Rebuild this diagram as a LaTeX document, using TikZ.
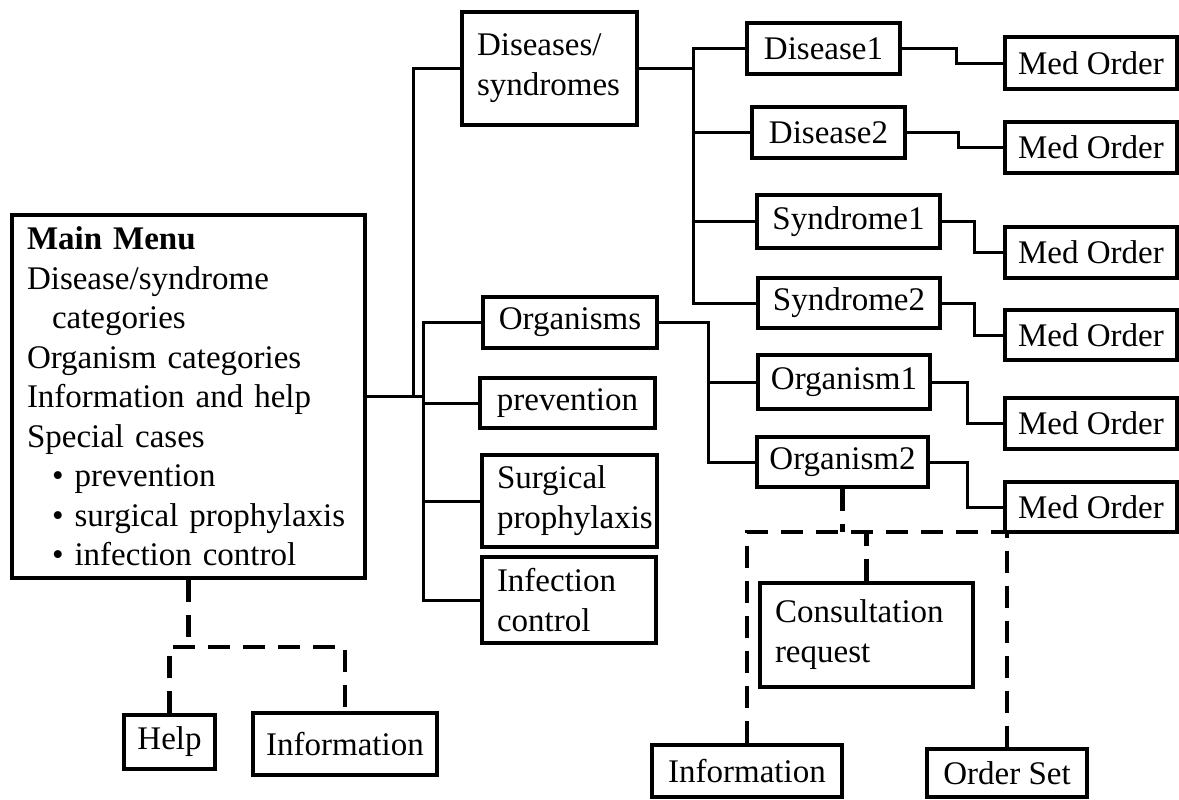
\documentclass[tikz,border=0pt]{standalone}
\usepackage{fontspec}
\setmainfont{Liberation Serif}
\newcommand\dgfs{\fontsize{16.5}{20}\selectfont}
\begin{document}
\begin{tikzpicture}[x=0.5pt,y=-0.5pt,
  box/.style={draw, line width=1.6pt, inner sep=0pt, font=\dgfs},
  mbox/.style={box, align=left},
  conn/.style={line width=1.5pt},
  dsh/.style={line width=2.3pt, dash pattern=on 11pt off 6.5pt}]
\useasboundingbox (0,0) rectangle (1179,799);
% main menu
\node[mbox, minimum width=176.5pt, minimum height=181.5pt, text width=161.5pt,
  font=\fontsize{16.5}{19.75}\selectfont] (main) at (188.5,396.5)
 {\textbf{Main Menu}\\
  Disease/syndrome\\
  \hspace*{12.5pt}categories\\
  Organism categories\\
  Information and help\\
  Special cases\\
  \hspace*{12.5pt}\textbullet\ prevention\\
  \hspace*{12.5pt}\textbullet\ surgical prophylaxis\\
  \hspace*{12.5pt}\textbullet\ infection control};
% second level
\node[mbox, minimum width=87.5pt, minimum height=56.5pt, text width=72.5pt] (dis) at (549.5,68.5) {Diseases/\\syndromes};
\node[box, minimum width=87pt, minimum height=25.5pt] (org) at (570,322.5) {Organisms};
\node[box, minimum width=87.5pt, minimum height=25pt] (prev) at (567.5,403) {prevention};
\node[mbox, minimum width=87.5pt, minimum height=46pt, text width=72.5pt] (surg) at (569.5,501) {Surgical\\prophylaxis};
\node[mbox, minimum width=87pt, minimum height=43pt, text width=72pt] (inf) at (569,600) {Infection\\control};
% third level
\node[box, minimum width=76.5pt, minimum height=25.5pt] (d1) at (823.5,48.5) {Disease1};
\node[box, minimum width=76.5pt, minimum height=25.5pt] (d2) at (828.5,132.5) {Disease2};
\node[box, minimum width=91.5pt, minimum height=26.5pt] (s1) at (848.5,221.5) {Syndrome1};
\node[box, minimum width=91pt, minimum height=25pt] (s2) at (849,303) {Syndrome2};
\node[box, minimum width=86pt, minimum height=27pt] (o1) at (844,382) {Organism1};
\node[box, minimum width=85.5pt, minimum height=25pt] (o2) at (842.5,462) {Organism2};
% med orders
\node[box, minimum width=86pt, minimum height=26pt] (m1) at (1091,63) {Med Order};
\node[box, minimum width=86pt, minimum height=25.5pt] (m2) at (1091,147.5) {Med Order};
\node[box, minimum width=86pt, minimum height=25.5pt] (m3) at (1091,252.5) {Med Order};
\node[box, minimum width=86pt, minimum height=25pt] (m4) at (1091,335) {Med Order};
\node[box, minimum width=86pt, minimum height=25.5pt] (m5) at (1091,423.5) {Med Order};
\node[box, minimum width=86pt, minimum height=25pt] (m6) at (1091,507) {Med Order};
% lower boxes
\node[mbox, minimum width=106.5pt, minimum height=52pt, text width=91.5pt] (cons) at (866.5,635) {Consultation\\request};
\node[box, minimum width=95pt, minimum height=26pt] (info2) at (747,771) {Information};
\node[box, minimum width=80pt, minimum height=24pt] (ordset) at (1007,773) {Order Set};
\node[box, minimum width=45.5pt, minimum height=27pt] (help) at (169.5,742) {Help};
\node[box, minimum width=92pt, minimum height=31pt] (info1) at (345,744) {Information};
% trunk coordinates
\coordinate (t1) at (413,396.5);
\coordinate (t2) at (423,396.5);
\coordinate (b1) at (693,0);
\coordinate (b2) at (708,0);
\coordinate (h1) at (0,647);
\coordinate (h2) at (0,532);
% solid connectors
\draw[conn] (main.east) -- (t2);
\draw[conn] (t1) |- (dis.west);
\draw[conn] (t2) |- (org.west);
\draw[conn] (t2) |- (prev.west);
\draw[conn] (t2) |- (surg.west);
\draw[conn] (t2) |- (inf.west);
\draw[conn] (dis.east) -- (dis.east -| b1) |- (d1.west);
\draw[conn] (dis.east -| b1) |- (d2.west);
\draw[conn] (dis.east -| b1) |- (s1.west);
\draw[conn] (dis.east -| b1) |- (s2.west);
\draw[conn] (org.east) -- (org.east -| b2) |- (o1.west);
\draw[conn] (org.east -| b2) |- (o2.west);
\draw[conn] (d1.east) -- ++(55,0) |- (m1.west);
\draw[conn] (d2.east) -- ++(52,0) |- (m2.west);
\draw[conn] (s1.east) -- ++(33,0) |- (m3.west);
\draw[conn] (s2.east) -- ++(33,0) |- (m4.west);
\draw[conn] (o1.east) -- ++(36,0) |- (m5.west);
\draw[conn] (o2.east) -- ++(38,0) |- (m6.west);
% dashed connectors
\draw[dsh] (main.south) -- (main.south |- h1);
\draw[dsh] (help.north) -- (help.north |- h1) -- (info1.north |- h1) -- (info1.north);
\draw[dsh] (o2.south) -- (o2.south |- h2);
\draw[dsh] (info2.north) -- (info2.north |- h2) -- (ordset.north |- h2) -- (ordset.north);
\draw[dsh] (cons.north) -- (cons.north |- h2);
\end{tikzpicture}
\end{document}
